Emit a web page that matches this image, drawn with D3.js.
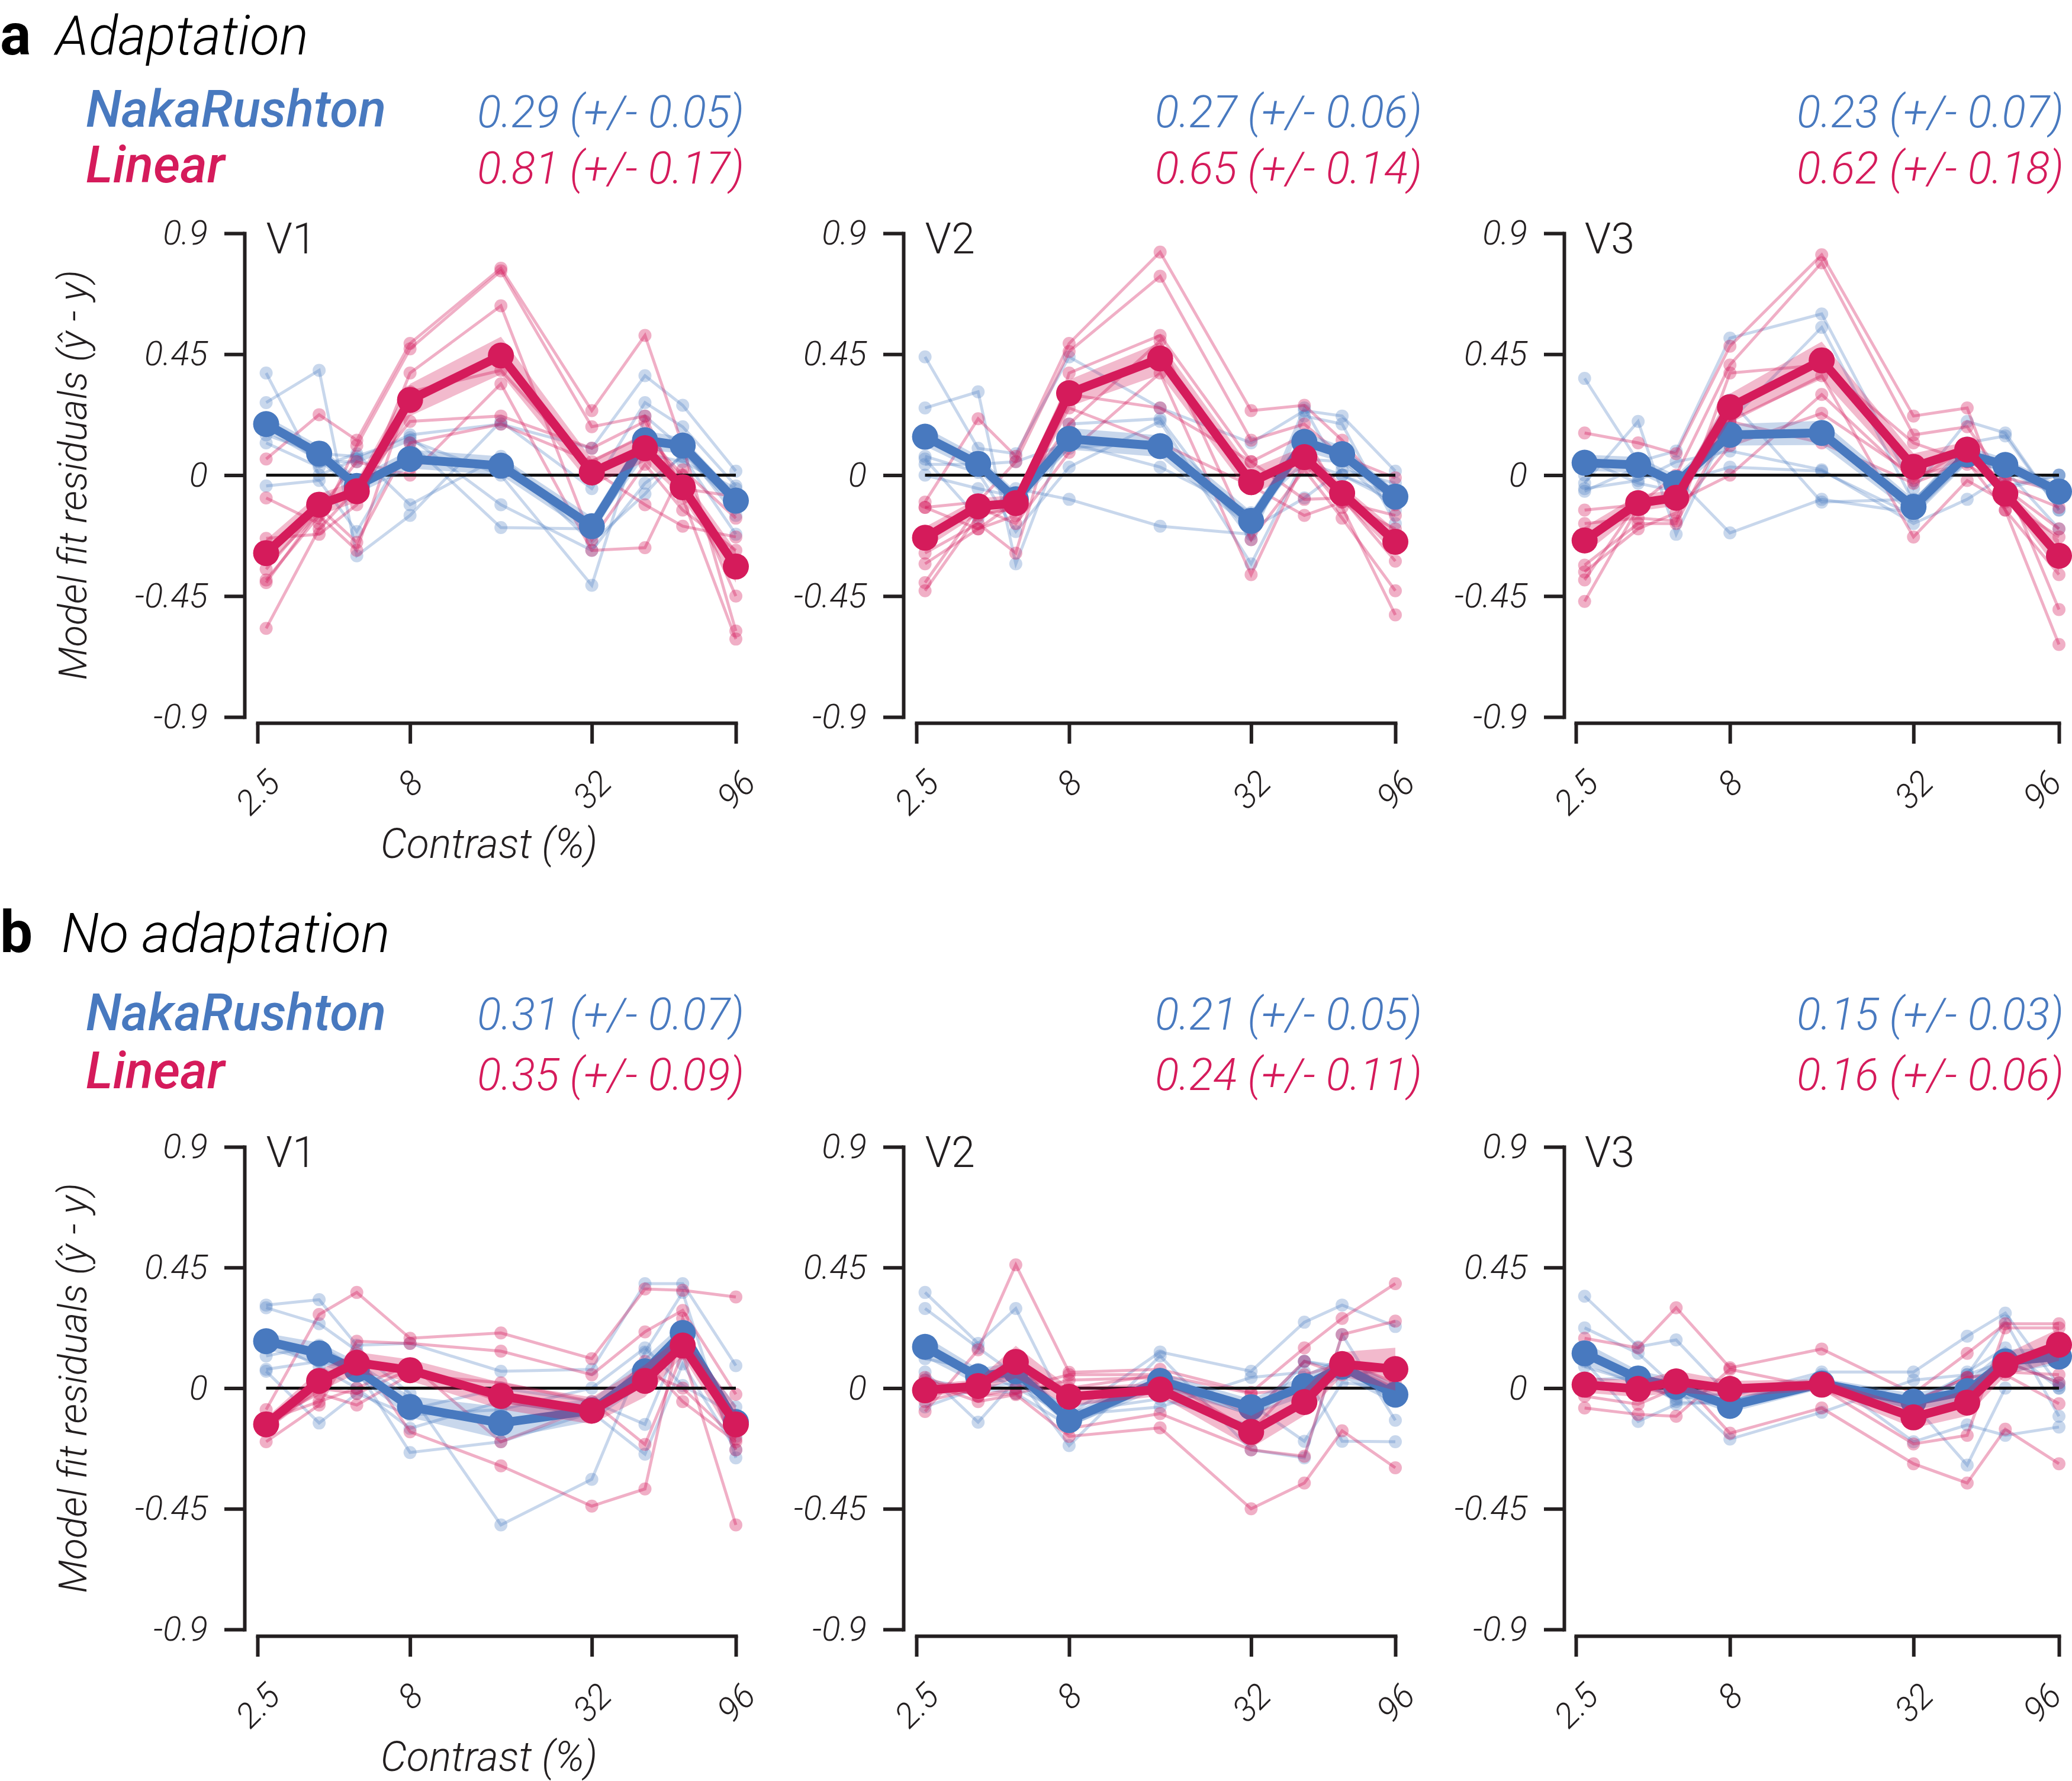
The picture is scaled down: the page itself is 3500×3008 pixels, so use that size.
<!DOCTYPE html>
<html>
<head>
<meta charset="utf-8">
<script src="https://cdn.jsdelivr.net/npm/d3@7/dist/d3.min.js"></script>
<style>
  html, body { margin: 0; padding: 0; background: #ffffff; }
  svg { display: block; }
</style>
</head>
<body>
<svg id="chart" width="3500" height="3008"></svg>
<script>
// ---------------- DATA ----------------
const contrasts = [2.67, 4, 5.33, 8, 16, 32, 48, 64, 96];
const xTickValues = [2.5, 8, 32, 96];
const xTickLabels = ["2.5", "8", "32", "96"];
const yTickValues = [0.9, 0.45, 0, -0.45, -0.9];
const yTickLabels = ["0.9", "0.45", "0", "-0.45", "-0.9"];
const areas = ["V1", "V2", "V3"];
const conditionLetters = ["a", "b"];
const conditionNames = ["Adaptation", "No adaptation"];
const modelNames = ["NakaRushton", "Linear"];
const statsNakaRushton = [
  ["0.29 (+/- 0.05)", "0.27 (+/- 0.06)", "0.23 (+/- 0.07)"],
  ["0.31 (+/- 0.07)", "0.21 (+/- 0.05)", "0.15 (+/- 0.03)"]
];
const statsLinear = [
  ["0.81 (+/- 0.17)", "0.65 (+/- 0.14)", "0.62 (+/- 0.18)"],
  ["0.35 (+/- 0.09)", "0.24 (+/- 0.11)", "0.16 (+/- 0.06)"]
];

// --- a: Adaptation, V1 ---
const adaptV1NakaMean = [0.19, 0.08, -0.04, 0.06, 0.035, -0.19, 0.13, 0.11, -0.095];
const adaptV1NakaSem  = [0.03, 0.03, 0.03, 0.035, 0.035, 0.035, 0.035, 0.03, 0.025];
const adaptV1NakaSubj = [
  [0.38, 0.00, 0.06, 0.15, 0.19, 0.10, 0.37, 0.26, 0.015],
  [0.27, 0.39, -0.30, -0.15, 0.20, -0.05, 0.27, 0.18, -0.04],
  [0.20, 0.05, 0.05, 0.13, 0.00, -0.41, 0.22, 0.10, -0.15],
  [0.15, 0.08, 0.07, 0.14, -0.11, -0.28, -0.03, 0.07, -0.22],
  [-0.04, -0.02, -0.21, 0.12, -0.195, -0.20, 0.08, 0.05, -0.05],
  [0.12, 0.03, 0.08, -0.11, 0.07, -0.25, -0.07, 0.08, -0.12]
];
const adaptV1LinMean = [-0.29, -0.11, -0.06, 0.28, 0.445, 0.01, 0.10, -0.045, -0.34];
const adaptV1LinSem  = [0.05, 0.04, 0.04, 0.06, 0.07, 0.05, 0.05, 0.04, 0.06];
const adaptV1LinSubj = [
  [0.06, 0.225, 0.13, 0.49, 0.77, 0.24, 0.52, 0.11, -0.58],
  [-0.085, -0.18, 0.11, 0.47, 0.76, 0.18, 0.22, -0.085, -0.61],
  [-0.235, -0.22, -0.11, 0.38, 0.63, -0.24, 0.04, -0.13, -0.28],
  [-0.39, -0.15, -0.28, 0.31, 0.39, 0.02, -0.11, -0.19, -0.23],
  [-0.40, -0.13, 0.05, 0.00, 0.34, -0.28, -0.27, 0.02, -0.16],
  [-0.57, -0.20, -0.05, 0.20, 0.22, 0.10, 0.20, -0.05, -0.08],
  [-0.35, -0.12, -0.25, 0.12, 0.19, 0.05, 0.15, 0.00, -0.45]
];

// --- a: Adaptation, V2 ---
const adaptV2NakaMean = [0.143, 0.042, -0.09, 0.135, 0.108, -0.17, 0.124, 0.078, -0.08];
const adaptV2NakaSem  = [0.035, 0.03, 0.03, 0.04, 0.04, 0.035, 0.035, 0.03, 0.025];
const adaptV2NakaSubj = [
  [0.44, 0.10, 0.08, 0.44, 0.25, 0.12, 0.24, 0.22, 0.015],
  [0.25, 0.31, -0.33, 0.19, 0.21, -0.24, 0.22, 0.19, -0.18],
  [0.07, 0.01, -0.21, 0.03, 0.20, -0.33, 0.06, 0.05, -0.13],
  [0.04, 0.04, 0.05, 0.12, 0.03, -0.14, 0.05, 0.00, -0.08],
  [0.00, -0.05, -0.08, 0.10, 0.13, -0.20, -0.085, 0.02, -0.03],
  [0.06, -0.16, -0.05, -0.09, -0.19, -0.22, 0.25, 0.00, -0.10]
];
const adaptV2LinMean = [-0.233, -0.116, -0.104, 0.305, 0.434, -0.026, 0.067, -0.067, -0.248];
const adaptV2LinSem  = [0.04, 0.03, 0.03, 0.05, 0.06, 0.05, 0.04, 0.03, 0.045];
const adaptV2LinSubj = [
  [-0.10, 0.21, 0.07, 0.49, 0.83, 0.24, 0.26, 0.13, -0.11],
  [-0.12, -0.10, 0.05, 0.46, 0.74, 0.13, 0.19, 0.07, -0.01],
  [-0.29, -0.18, -0.29, 0.38, 0.52, 0.05, -0.09, -0.085, -0.32],
  [-0.33, -0.20, -0.10, 0.19, 0.50, -0.24, 0.02, -0.16, -0.43],
  [-0.40, -0.12, -0.18, 0.085, 0.38, -0.37, 0.05, -0.12, -0.52],
  [-0.43, -0.15, -0.12, 0.25, 0.12, -0.04, -0.15, -0.10, -0.20],
  [-0.12, -0.20, -0.15, 0.30, 0.25, 0.05, 0.15, -0.10, -0.15]
];

// --- a: Adaptation, V3 ---
const adaptV3NakaMean = [0.046, 0.038, -0.03, 0.15, 0.157, -0.118, 0.077, 0.038, -0.061];
const adaptV3NakaSem  = [0.03, 0.03, 0.03, 0.04, 0.045, 0.03, 0.03, 0.025, 0.025];
const adaptV3NakaSubj = [
  [0.36, 0.05, 0.09, 0.51, 0.60, -0.05, 0.20, 0.157, -0.13],
  [-0.03, 0.20, -0.22, 0.20, 0.55, -0.10, 0.12, 0.146, -0.13],
  [-0.05, -0.02, 0.05, 0.09, 0.02, -0.18, -0.09, 0.00, 0.00],
  [-0.06, 0.03, -0.03, 0.03, 0.015, -0.15, 0.05, 0.02, -0.20],
  [0.00, 0.00, -0.01, -0.215, -0.09, -0.14, 0.10, -0.05, 0.00],
  [0.06, -0.03, -0.06, 0.28, -0.10, -0.09, 0.08, -0.04, 0.00]
];
const adaptV3LinMean = [-0.243, -0.104, -0.084, 0.253, 0.427, 0.031, 0.095, -0.069, -0.30];
const adaptV3LinSem  = [0.05, 0.03, 0.03, 0.05, 0.07, 0.05, 0.03, 0.02, 0.06];
const adaptV3LinSubj = [
  [0.157, 0.12, 0.08, 0.48, 0.82, 0.22, 0.25, -0.13, -0.63],
  [-0.13, -0.11, 0.00, 0.41, 0.79, 0.15, 0.18, -0.02, -0.50],
  [-0.18, -0.16, -0.17, 0.38, 0.41, 0.12, 0.05, -0.13, -0.37],
  [-0.335, -0.18, -0.18, 0.20, 0.37, -0.23, -0.02, -0.10, -0.23],
  [-0.36, -0.20, -0.14, 0.11, 0.23, 0.00, 0.04, -0.05, -0.20],
  [-0.39, -0.10, -0.10, 0.00, 0.30, -0.02, 0.10, -0.04, -0.12],
  [-0.47, -0.12, -0.08, 0.20, 0.12, -0.03, 0.05, -0.01, -0.06]
];

// --- b: No adaptation, V1 ---
const noadaptV1NakaMean = [0.175, 0.13, 0.07, -0.07, -0.13, -0.083, 0.063, 0.206, -0.127];
const noadaptV1NakaSem  = [0.03, 0.04, 0.03, 0.04, 0.06, 0.04, 0.05, 0.035, 0.03];
const noadaptV1NakaSubj = [
  [0.31, 0.33, 0.16, 0.167, 0.063, 0.07, 0.39, 0.39, 0.084],
  [0.30, 0.24, 0.14, -0.02, -0.51, -0.34, 0.135, 0.357, -0.26],
  [0.12, 0.16, 0.07, -0.08, 0.00, -0.05, -0.135, 0.20, -0.18],
  [0.07, 0.10, 0.07, -0.24, -0.20, -0.09, -0.246, 0.09, -0.23],
  [0.063, -0.13, -0.02, -0.10, -0.08, 0.00, 0.15, 0.01, -0.10],
  [0.18, 0.08, 0.00, -0.15, -0.05, -0.10, 0.05, 0.18, -0.07]
];
const noadaptV1LinMean = [-0.135, 0.027, 0.095, 0.067, -0.029, -0.084, 0.027, 0.159, -0.135];
const noadaptV1LinSem  = [0.025, 0.04, 0.04, 0.04, 0.05, 0.05, 0.06, 0.04, 0.07];
const noadaptV1LinSubj = [
  [-0.08, 0.275, 0.357, 0.186, 0.206, 0.11, 0.37, 0.365, 0.34],
  [-0.20, -0.063, 0.175, 0.167, 0.138, 0.05, 0.21, 0.29, -0.023],
  [-0.14, 0.02, 0.13, -0.163, -0.29, -0.44, -0.376, 0.26, -0.23],
  [-0.12, -0.02, -0.063, 0.05, 0.02, -0.05, -0.21, 0.13, -0.51],
  [-0.15, 0.00, -0.02, 0.07, -0.05, -0.10, 0.10, -0.05, -0.20],
  [-0.12, -0.05, 0.00, 0.09, -0.20, -0.07, 0.06, 0.00, -0.19]
];

// --- b: No adaptation, V2 ---
const noadaptV2NakaMean = [0.154, 0.043, 0.063, -0.119, 0.027, -0.071, 0.008, 0.08, -0.024];
const noadaptV2NakaSem  = [0.04, 0.03, 0.035, 0.025, 0.03, 0.03, 0.04, 0.04, 0.035];
const noadaptV2NakaSubj = [
  [0.357, 0.167, 0.297, -0.10, 0.135, 0.063, 0.246, 0.31, 0.23],
  [0.297, 0.15, 0.05, -0.214, 0.12, -0.23, -0.26, 0.20, -0.12],
  [0.11, 0.07, 0.00, -0.10, -0.07, 0.04, 0.06, -0.198, -0.20],
  [0.06, -0.127, 0.03, -0.07, 0.00, -0.06, -0.198, 0.02, 0.00],
  [0.03, 0.00, -0.02, -0.14, 0.02, -0.10, 0.10, 0.08, -0.05],
  [-0.07, 0.00, 0.02, -0.09, -0.04, -0.14, 0.10, 0.07, 0.00]
];
const noadaptV2LinMean = [-0.008, 0.008, 0.098, -0.032, -0.005, -0.163, -0.052, 0.09, 0.071];
const noadaptV2LinSem  = [0.02, 0.025, 0.06, 0.035, 0.025, 0.06, 0.05, 0.045, 0.08];
const noadaptV2LinSubj = [
  [-0.087, 0.143, 0.46, 0.059, 0.07, -0.016, 0.15, 0.26, 0.39],
  [-0.05, 0.00, 0.12, -0.15, -0.095, -0.23, -0.254, 0.20, 0.25],
  [0.02, -0.05, -0.024, -0.18, -0.148, -0.45, -0.354, -0.159, -0.297],
  [0.00, 0.02, 0.05, 0.00, 0.05, -0.10, 0.10, 0.05, 0.07],
  [0.03, -0.03, 0.00, 0.05, 0.05, -0.02, 0.00, 0.10, 0.02],
  [0.04, -0.03, -0.02, 0.03, 0.04, -0.16, 0.05, 0.09, 0.00]
];

// --- b: No adaptation, V3 ---
const noadaptV3NakaMean = [0.13, 0.036, 0.005, -0.066, 0.017, -0.05, -0.011, 0.10, 0.118];
const noadaptV3NakaSem  = [0.04, 0.03, 0.03, 0.025, 0.02, 0.03, 0.04, 0.045, 0.03];
const noadaptV3NakaSubj = [
  [0.343, 0.154, 0.18, -0.03, 0.06, 0.06, 0.194, 0.28, 0.01],
  [0.225, 0.13, 0.00, -0.19, -0.09, 0.03, 0.05, 0.25, -0.105],
  [0.10, -0.124, -0.06, -0.05, 0.05, -0.20, -0.137, -0.176, -0.145],
  [0.08, 0.02, -0.04, -0.02, 0.02, -0.06, -0.287, 0.00, 0.00],
  [0.00, 0.00, 0.00, -0.05, 0.03, -0.05, 0.05, 0.10, 0.02],
  [0.03, 0.04, -0.05, -0.06, 0.03, -0.08, 0.06, 0.15, 0.00]
];
const noadaptV3LinMean = [0.013, -0.003, 0.025, -0.003, 0.013, -0.109, -0.054, 0.087, 0.162];
const noadaptV3LinSem  = [0.03, 0.03, 0.04, 0.03, 0.02, 0.04, 0.05, 0.04, 0.06];
const noadaptV3LinSubj = [
  [0.186, 0.15, 0.30, 0.076, 0.146, -0.02, 0.13, 0.24, 0.24],
  [-0.074, -0.098, -0.105, 0.07, 0.00, -0.208, -0.176, 0.225, 0.225],
  [0.00, 0.00, 0.05, -0.168, -0.074, -0.282, -0.354, -0.153, -0.282],
  [-0.03, -0.06, 0.00, 0.00, 0.02, -0.05, 0.04, 0.05, -0.058],
  [0.00, 0.00, 0.02, 0.00, 0.00, -0.04, 0.00, 0.10, 0.02],
  [0.00, 0.00, -0.02, 0.00, 0.00, -0.05, 0.04, 0.06, 0.05]
];

// ---------------- ASSEMBLY ----------------
const panels = [
  [
    {naka: [adaptV1NakaMean, adaptV1NakaSem, adaptV1NakaSubj], lin: [adaptV1LinMean, adaptV1LinSem, adaptV1LinSubj]},
    {naka: [adaptV2NakaMean, adaptV2NakaSem, adaptV2NakaSubj], lin: [adaptV2LinMean, adaptV2LinSem, adaptV2LinSubj]},
    {naka: [adaptV3NakaMean, adaptV3NakaSem, adaptV3NakaSubj], lin: [adaptV3LinMean, adaptV3LinSem, adaptV3LinSubj]}
  ],
  [
    {naka: [noadaptV1NakaMean, noadaptV1NakaSem, noadaptV1NakaSubj], lin: [noadaptV1LinMean, noadaptV1LinSem, noadaptV1LinSubj]},
    {naka: [noadaptV2NakaMean, noadaptV2NakaSem, noadaptV2NakaSubj], lin: [noadaptV2LinMean, noadaptV2LinSem, noadaptV2LinSubj]},
    {naka: [noadaptV3NakaMean, noadaptV3NakaSem, noadaptV3NakaSubj], lin: [noadaptV3LinMean, noadaptV3LinSem, noadaptV3LinSubj]}
  ]
];

// ---------------- LAYOUT ----------------
const BLUE = "#4879BF";
const RED = "#D51B5B";
const INK = "#231f20";
const LIGHT = "Roboto, 'Helvetica Neue', Arial, sans-serif";
const CANVAS_W = 3500;

const cols = [
  {axisX: 413, x0: 435, x1: 1243, statsX: 1257},
  {axisX: 1526, x0: 1548, x1: 2357, statsX: 2402},
  {axisX: 2642, x0: 2662, x1: 3478, statsX: 3486}
];
const rows = [
  {yTop: 394, yBot: 1211, xAxisY: 1221, titleY: 92, nakaY: 214, linY: 308, statNY: 215, statLY: 310},
  {yTop: 1937, yBot: 2752, xAxisY: 2763, titleY: 1608, nakaY: 1740, linY: 1838, statNY: 1739, statLY: 1841}
];

const svg = d3.select("#chart");
svg.append("rect").attr("width", 3500).attr("height", 3008).attr("fill", "#fff");

rows.forEach((row, ri) => {
  // Row titles
  svg.append("text").attr("x", 0).attr("y", row.titleY)
    .attr("font-family", "Roboto, Arial, sans-serif").attr("font-weight", 700)
    .attr("font-size", 98).attr("fill", "#000").text(conditionLetters[ri]);
  svg.append("text").attr("x", ri === 0 ? 94 : 104).attr("y", row.titleY)
    .attr("font-family", LIGHT).attr("font-weight", 300).attr("font-style", "italic")
    .attr("font-size", 92).attr("fill", "#000").text(conditionNames[ri]);
  // Model legend names
  svg.append("text").attr("x", 145).attr("y", row.nakaY)
    .attr("font-family", LIGHT).attr("font-weight", 500).attr("font-style", "italic")
    .attr("font-size", 87).attr("fill", BLUE).text(modelNames[0]);
  svg.append("text").attr("x", 145).attr("y", row.linY)
    .attr("font-family", LIGHT).attr("font-weight", 500).attr("font-style", "italic")
    .attr("font-size", 87).attr("fill", RED).text(modelNames[1]);

  cols.forEach((col, ci) => {
    const p = panels[ri][ci];
    const x = d3.scaleLog().domain([xTickValues[0], xTickValues[xTickValues.length - 1]]).range([col.x0, col.x1]);
    const y = d3.scaleLinear().domain([yTickValues[yTickValues.length - 1], yTickValues[0]]).range([row.yBot, row.yTop]);
    const g = svg.append("g");

    // stats
    g.append("text").attr("x", col.statsX).attr("y", row.statNY).attr("text-anchor", "end")
      .attr("font-family", LIGHT).attr("font-weight", 300).attr("font-style", "italic")
      .attr("font-size", 75).attr("fill", BLUE).text(statsNakaRushton[ri][ci]);
    g.append("text").attr("x", col.statsX).attr("y", row.statLY).attr("text-anchor", "end")
      .attr("font-family", LIGHT).attr("font-weight", 300).attr("font-style", "italic")
      .attr("font-size", 75).attr("fill", RED).text(statsLinear[ri][ci]);

    // axes
    const yAxis = d3.axisLeft(y).tickValues(yTickValues)
      .tickFormat((d, i) => yTickLabels[i]).tickSize(34).tickSizeOuter(0).tickPadding(28);
    const ya = g.append("g").attr("transform", `translate(${col.axisX},0)`).call(yAxis);
    ya.select(".domain").attr("stroke", INK).attr("stroke-width", 6).attr("stroke-linecap", "square");
    ya.selectAll(".tick line").attr("stroke", INK).attr("stroke-width", 6);
    ya.selectAll(".tick text").attr("font-family", LIGHT).attr("font-weight", 300)
      .attr("font-style", "italic").attr("font-size", 58).attr("fill", INK);

    const xAxis = d3.axisBottom(x).tickValues(xTickValues)
      .tickFormat((d, i) => xTickLabels[i]).tickSize(35).tickSizeOuter(0);
    const xa = g.append("g").attr("transform", `translate(0,${row.xAxisY})`).call(xAxis);
    xa.select(".domain").attr("stroke", INK).attr("stroke-width", 6).attr("stroke-linecap", "square");
    xa.selectAll(".tick line").attr("stroke", INK).attr("stroke-width", 6);
    xa.selectAll(".tick text").attr("font-family", LIGHT).attr("font-weight", 300)
      .attr("font-style", "italic").attr("font-size", 58).attr("fill", INK)
      .attr("y", null).attr("dy", null).attr("text-anchor", "middle")
      .attr("dominant-baseline", "central")
      .each(function (d) {
        const w = this.getComputedTextLength();
        const h = 42;
        const half = (w + h) * 0.7071 / 2;
        const boxHalf = (w + 70) * 0.7071 / 2;
        const off = 76 + half;
        const ax = x(d);
        let dx = 0;
        if (ax + boxHalf > CANVAS_W - 4) dx = (CANVAS_W - 4) - (ax + boxHalf);
        d3.select(this).attr("transform", `translate(${dx},${off}) rotate(-45)`);
      });

    // area label
    g.append("text").attr("x", x(contrasts[0])).attr("y", row.yTop + 34)
      .attr("font-family", LIGHT).attr("font-weight", 300)
      .attr("font-size", 72).attr("fill", INK).text(areas[ci]);

    if (ci === 0) {
      g.append("text")
        .attr("transform", `translate(123,${y(0)}) rotate(-90)`)
        .attr("text-anchor", "middle").attr("dominant-baseline", "central")
        .attr("font-family", LIGHT).attr("font-weight", 300).attr("font-style", "italic")
        .attr("font-size", 67).attr("fill", INK).text("Model fit residuals (\u0177 - y)");
      g.append("text").attr("x", 826).attr("y", row.xAxisY + 228).attr("text-anchor", "middle")
        .attr("font-family", LIGHT).attr("font-weight", 300).attr("font-style", "italic")
        .attr("font-size", 70).attr("fill", INK).text("Contrast (%)");
    }

    const line = d3.line().x((d, i) => x(contrasts[i])).y(d => y(d));
    const models = [[p.naka, BLUE, 0.3], [p.lin, RED, 0.35]];

    // individual subjects
    models.forEach(([m, color, op]) => {
      const subj = m[2];
      subj.forEach(s => {
        g.append("path").datum(s).attr("d", line).attr("fill", "none")
          .attr("stroke", color).attr("stroke-opacity", op).attr("stroke-width", 5);
        g.selectAll(null).data(s).enter().append("circle")
          .attr("cx", (d, i) => x(contrasts[i])).attr("cy", d => y(d)).attr("r", 11)
          .attr("fill", color).attr("fill-opacity", op);
      });
    });

    // zero line
    g.append("line").attr("x1", x(contrasts[0])).attr("x2", x(contrasts[contrasts.length - 1]))
      .attr("y1", y(0)).attr("y2", y(0)).attr("stroke", "#111").attr("stroke-width", 5);

    // bands + means
    models.forEach(([m, color]) => {
      const mean = m[0], sem = m[1];
      const area = d3.area().x((d, i) => x(contrasts[i]))
        .y0((d, i) => y(mean[i] - sem[i])).y1((d, i) => y(mean[i] + sem[i]));
      g.append("path").datum(mean).attr("d", area).attr("fill", color).attr("fill-opacity", 0.3);
      g.append("path").datum(mean).attr("d", line).attr("fill", "none")
        .attr("stroke", color).attr("stroke-width", 15).attr("stroke-linejoin", "round");
      g.selectAll(null).data(mean).enter().append("circle")
        .attr("cx", (d, i) => x(contrasts[i])).attr("cy", d => y(d)).attr("r", 22)
        .attr("fill", color);
    });
  });
});
</script>
</body>
</html>
